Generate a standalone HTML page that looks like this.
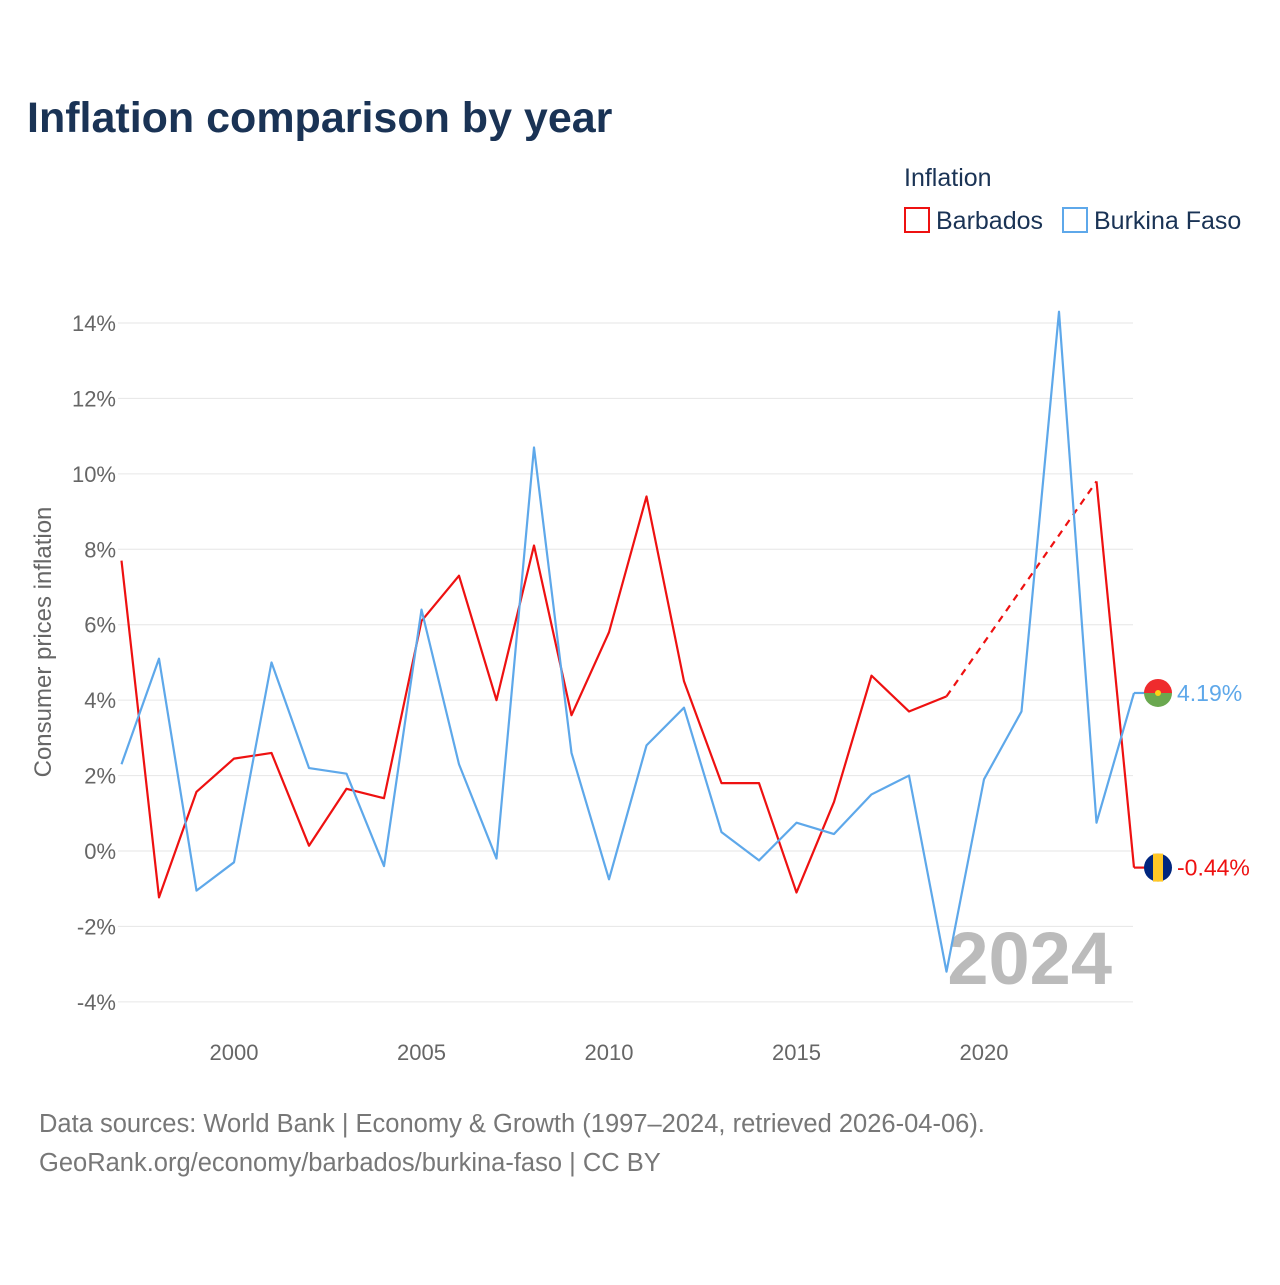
<!DOCTYPE html>
<html><head><meta charset="utf-8">
<style>
body{margin:0;background:#fff;width:1280px;height:1280px;overflow:hidden;font-family:"Liberation Sans",sans-serif;}
svg text{font-family:"Liberation Sans",sans-serif;}
</style></head>
<body>
<svg id="chart" width="1280" height="1280" xmlns="http://www.w3.org/2000/svg">
<text x="27" y="132" font-size="43" font-weight="bold" fill="#1a3355">Inflation comparison by year</text>
<text x="904" y="186" font-size="25" fill="#1a3355">Inflation</text>
<g><rect x="905" y="208" width="24" height="24" fill="none" stroke="#ee1111" stroke-width="2"/><text x="936" y="229" font-size="25" fill="#1a3355">Barbados</text></g>
<g><rect x="1063" y="208" width="24" height="24" fill="none" stroke="#5ea8ea" stroke-width="2"/><text x="1094" y="229" font-size="25" fill="#1a3355">Burkina Faso</text></g>
<text transform="translate(51,642) rotate(-90)" text-anchor="middle" font-size="24" fill="#666">Consumer prices inflation</text>
<text x="1112" y="984" text-anchor="end" font-size="74" font-weight="bold" fill="#bbb">2024</text>
<g id="grid"></g><g id="series"></g>
<text x="39" y="1132" font-size="25.5" fill="#777">Data sources: World Bank | Economy &amp; Growth (1997–2024, retrieved 2026-04-06).</text>
<text x="39" y="1171" font-size="25.5" fill="#777">GeoRank.org/economy/barbados/burkina-faso | CC BY</text>
</svg>
<script>
const years=[1997,1998,1999,2000,2001,2002,2003,2004,2005,2006,2007,2008,2009,2010,2011,2012,2013,2014,2015,2016,2017,2018,2019,2020,2021,2022,2023,2024];
const barbados=[7.7,-1.23,1.57,2.45,2.6,0.14,1.65,1.4,6.1,7.3,4.0,8.1,3.6,5.8,9.4,4.5,1.8,1.8,-1.1,1.3,4.65,3.7,4.1,null,null,null,9.8,-0.44];
const burkina=[2.3,5.1,-1.05,-0.3,5.0,2.2,2.05,-0.4,6.4,2.3,-0.2,10.7,2.6,-0.75,2.8,3.8,0.5,-0.25,0.75,0.45,1.5,2.0,-3.2,1.9,3.7,14.3,0.75,4.19];
const yTicks=[-4,-2,0,2,4,6,8,10,12,14];
const xTicks=[2000,2005,2010,2015,2020];
const NS="http://www.w3.org/2000/svg";
const X=y=>121.5+(y-1997)*37.5;
const Y=v=>851-v*37.714;
function el(t,a,p){const e=document.createElementNS(NS,t);for(const k in a)e.setAttribute(k,a[k]);p.appendChild(e);return e;}
const g=document.getElementById('grid'),s=document.getElementById('series');
yTicks.forEach(v=>{
 const l=el('line',{x1:118,x2:1133,y1:Y(v),y2:Y(v),stroke:'#e6e6e6','stroke-width':1},g);
 
 
 const t=el('text',{x:116,y:Y(v)+8,'text-anchor':'end','font-size':22,fill:'#666'},g);t.textContent=v+'%';
 
 
});
xTicks.forEach(v=>{
 const t=el('text',{x:X(v),y:1060,'text-anchor':'middle','font-size':22,fill:'#666'},g);t.textContent=v;
 
 
});
function draw(vals,color,name){
 let segs=[],cur=[];let last=null;
 vals.forEach((v,i)=>{
  if(v==null){if(cur.length)segs.push(cur);cur=[];return;}
  if(cur.length===0&&last!=null&&last!==i-1){
   const d=el('path',{d:`M${X(years[last])},${Y(vals[last])}L${X(years[i])},${Y(v)}`,fill:'none',stroke:color,'stroke-width':2.2,'stroke-dasharray':'7,6'},s);
   
   
  }
  cur.push([X(years[i]),Y(v)]);last=i;
 });
 if(cur.length)segs.push(cur);
 segs.forEach(sg=>{
  const p=el('path',{d:'M'+sg.map(q=>q.join(',')).join('L'),fill:'none',stroke:color,'stroke-width':2.2,'stroke-linejoin':'round'},s);
  
  
 });
 const lv=vals[vals.length-1],ly=Y(lv);
 el('line',{x1:X(2024),x2:1146,y1:ly,y2:ly,stroke:color,'stroke-width':2.2},s);
 return ly;
}
const yb=draw(barbados,'#ee1111','barbados');
const yk=draw(burkina,'#5ea8ea','burkina-faso');
const fk=el('g',{},s);
el('path',{d:`M1144,${yk}a14,14 0 0 1 28,0z`,fill:'#ef2b2d'},fk);
el('path',{d:`M1144,${yk}a14,14 0 0 0 28,0z`,fill:'#6aa84f'},fk);
el('circle',{cx:1158,cy:yk,r:3,fill:'#fcd116'},fk);
const fb=el('g',{},s);
el('circle',{cx:1158,cy:yb,r:14,fill:'#00267f'},fb);
el('rect',{x:1153,y:yb-14,width:10,height:28,fill:'#ffc726'},fb);
const t1=el('text',{x:1177,y:yk+8,'font-size':23,fill:'#5ea8ea'},s);t1.textContent=burkina[burkina.length-1].toFixed(2)+'%';


const t2=el('text',{x:1177,y:yb+8,'font-size':23,fill:'#ee1111'},s);t2.textContent=barbados[barbados.length-1].toFixed(2)+'%';


</script>
</body></html>
